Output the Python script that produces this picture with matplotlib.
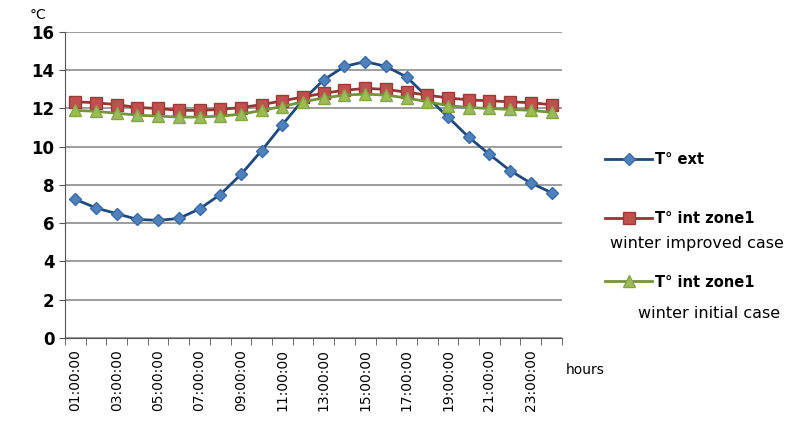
import numpy as np
import matplotlib
matplotlib.use("Agg")
import matplotlib.pyplot as plt

hours = ["%02d:00:00" % h for h in range(1, 25)]
t_ext = [7.25, 6.8, 6.5, 6.2, 6.15, 6.25, 6.75, 7.5, 8.55, 9.8, 11.15, 12.45,
         13.5, 14.2, 14.45, 14.2, 13.65, 12.6, 11.55, 10.5, 9.6, 8.75, 8.1, 7.6]
t_improved = [12.35, 12.3, 12.2, 12.05, 12.0, 11.9, 11.9, 11.95, 12.05, 12.2, 12.4, 12.6,
              12.8, 12.95, 13.05, 13.0, 12.85, 12.7, 12.55, 12.45, 12.4, 12.35, 12.3, 12.2]
t_initial = [11.9, 11.85, 11.75, 11.65, 11.6, 11.55, 11.55, 11.6, 11.7, 11.9, 12.1, 12.35,
             12.55, 12.7, 12.75, 12.7, 12.55, 12.35, 12.15, 12.05, 12.0, 11.95, 11.9, 11.8]
labels = ["T° ext", "T° int zone1", "T° int zone1"]
sublabels = ["", "winter improved case", "winter initial case"]

x = np.arange(len(hours))

fig = plt.figure(figsize=(8.08, 4.32), dpi=100)
ax = fig.add_axes([0.0804, 0.2176, 0.615, 0.7084])

l1, = ax.plot(x, t_ext, color="#1F497D", lw=2, marker="D", ms=6.5,
              mfc="#4F81BD", mec="#3A6BA5", zorder=3)
l2, = ax.plot(x, t_improved, color="#943634", lw=2, marker="s", ms=8.5,
              mfc="#C0504D", mec="#9C3A38", zorder=4)
l3, = ax.plot(x, t_initial, color="#76923C", lw=2, marker="^", ms=8.5,
              mfc="#9BBB59", mec="#86A648", zorder=5)

ax.set_xlim(-0.5, 23.5)
ax.set_ylim(0, 16)
ax.set_yticks(np.arange(0, 17, 2))
ax.set_yticklabels([str(v) for v in range(0, 17, 2)], fontweight="bold", fontsize=12)
ax.yaxis.grid(True, color="#8c8c8c", lw=1.2)
ax.set_axisbelow(True)

ax.set_xticks(x[::2])
ax.set_xticklabels(hours[::2], rotation=90, fontsize=10)
ax.set_xticks(np.arange(-0.5, 24, 1), minor=True)
ax.tick_params(axis="x", which="major", length=0, pad=8)
ax.tick_params(axis="x", which="minor", length=5, color="#555555")
ax.tick_params(axis="y", length=4, color="#555555")

for s in ["top", "right"]:
    ax.spines[s].set_visible(False)
ax.spines["left"].set_color("#555555")
ax.spines["bottom"].set_color("#555555")

fig.text(0.037, 0.955, "°C", fontsize=10)
fig.text(0.700, 0.135, "hours", fontsize=10)

# legend entries placed one by one (y of each row in figure fraction)
leg_y = [0.630, 0.495, 0.347]
for line, lab, yy in zip([l1, l2, l3], labels, leg_y):
    fig.legend([line], [lab], loc="center left", bbox_to_anchor=(0.733, yy),
               frameon=False, handlelength=3.2, handletextpad=0.2,
               prop={"weight": "bold", "size": 10.5})
fig.text(0.862, 0.425, sublabels[1], fontsize=11.5, ha="center")
fig.text(0.877, 0.265, sublabels[2], fontsize=11.5, ha="center")

plt.savefig("out.png", dpi=100)
